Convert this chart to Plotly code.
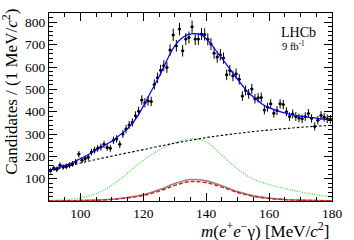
import numpy as np
import plotly.graph_objects as go

# ---- data ----
bin_centers = [90.5 + i for i in range(90)]
counts = [135, 148, 142, 160, 152, 155, 160, 166, 175, 210,
          183, 190, 196, 219, 228, 236, 242, 254, 240, 236,
          272, 278, 254, 300, 322, 340, 352, 382, 402, 452,
          440, 448, 446, 522, 552, 586, 606, 598, 676, 744,
          695, 770, 673, 725, 732, 780, 725, 726, 748, 746,
          724, 703, 662, 645, 655, 640, 565, 585, 560, 570,
          545, 470, 495, 480, 502, 458, 462, 464, 408, 420,
          435, 393, 405, 435, 432, 400, 378, 390, 378, 372,
          368, 378, 392, 370, 334, 362, 383, 375, 368, 366]

fit_x = list(range(90, 181, 2))
fit_total = [137, 146, 155, 164, 176, 190, 204, 219, 236, 252,
             268, 290, 312, 340, 376, 425, 478, 530, 585, 645,
             695, 727, 744, 750, 746, 727, 695, 657, 620, 582,
             545, 508, 478, 455, 432, 418, 407, 398, 390, 384,
             380, 376, 373, 369, 365, 362]

comp_x = list(range(90, 181, 5))
comp_background = [133, 152, 170, 186, 201, 216, 230, 245, 259, 272,
                   284, 294, 303, 311, 318, 324, 330, 335, 339]
comp_green = [3, 6, 13, 33, 70, 125, 183, 228, 262, 279,
              264, 205, 143, 98, 74, 56, 41, 28, 18]
comp_gray = [0, 1, 2, 4, 8, 16, 28, 50, 78, 96,
             90, 68, 42, 23, 13, 7, 4, 2, 1]
comp_red = [0, 1, 2, 3, 7, 14, 25, 44, 70, 87,
            82, 62, 38, 21, 11, 6, 3, 2, 1]

x_tick_vals = [100, 120, 140, 160, 180]
y_tick_vals = [100, 200, 300, 400, 500, 600, 700, 800]

SERIF = "Liberation Serif, Times New Roman, serif"

fig = go.Figure()

fig.add_trace(go.Scatter(x=comp_x, y=comp_green, mode="lines",
                         line=dict(color="#33dd33", width=1.2, dash="1px,1.5px", shape="spline")))
fig.add_trace(go.Scatter(x=comp_x, y=comp_gray, mode="lines",
                         line=dict(color="#8a8a8a", width=1.6, shape="spline")))
fig.add_trace(go.Scatter(x=comp_x, y=comp_red, mode="lines",
                         line=dict(color="#ee1111", width=1.4, dash="4px,2px", shape="spline")))
fig.add_trace(go.Scatter(x=comp_x, y=comp_background, mode="lines",
                         line=dict(color="black", width=1.1, dash="2.5px,2px", shape="spline")))

err = np.sqrt(np.array(counts, dtype=float))
fig.add_trace(go.Scatter(x=bin_centers, y=counts, mode="markers",
                         marker=dict(color="black", size=3),
                         error_y=dict(type="data", array=err, color="black", thickness=1, width=0),
                         error_x=dict(type="constant", value=0.5, color="black", thickness=1, width=0)))

fig.add_trace(go.Scatter(x=fit_x, y=fit_total, mode="lines",
                         line=dict(color="#0000ff", width=1.2, shape="spline")))

axis_common = dict(showline=True, linecolor="black", linewidth=1, mirror="allticks",
                   ticks="inside", ticklen=8, tickcolor="black", tickwidth=1,
                   showgrid=False, zeroline=False,
                   tickfont=dict(family=SERIF, size=13.5, color="black"))

fig.update_xaxes(range=[90, 180], tickvals=x_tick_vals,
                 minor=dict(dtick=5, tick0=90, ticks="inside", ticklen=4, tickcolor="black"),
                 **axis_common)
fig.update_yaxes(range=[0, 842], tickvals=y_tick_vals,
                 minor=dict(dtick=20, tick0=0, ticks="inside", ticklen=4, tickcolor="black"),
                 **axis_common)

fig.add_annotation(text="Candidates / (1 MeV/<i>c</i><sup>2</sup>)", textangle=-90,
                   xref="paper", yref="paper", x=-0.139, y=1, xanchor="center", yanchor="top",
                   yshift=6, showarrow=False, font=dict(family=SERIF, size=17, color="black"))
fig.add_annotation(text="<i>m</i>(<i>e</i><sup>+</sup><i>e</i><sup>\u2212</sup>\u03b3) [MeV/<i>c</i><sup>2</sup>]",
                   xref="paper", yref="paper", x=1, y=0, xanchor="right", yanchor="middle",
                   xshift=-1, yshift=-28.5, showarrow=False,
                   font=dict(family=SERIF, size=17, color="black"))
fig.add_annotation(text="LHCb", xref="paper", yref="paper", x=0.813, y=0.897,
                   xanchor="left", yanchor="middle", showarrow=False,
                   font=dict(family=SERIF, size=14, color="black"))
fig.add_annotation(text="9 fb<sup>-1</sup>", xref="paper", yref="paper", x=0.815, y=0.828,
                   xanchor="left", yanchor="middle", showarrow=False,
                   font=dict(family=SERIF, size=10.5, color="black"))

fig.update_layout(width=354, height=240, showlegend=False,
                  margin=dict(l=49, r=18, t=12, b=39),
                  paper_bgcolor="white", plot_bgcolor="white")

fig.write_html("out.html", config={"displayModeBar": False},
               post_script="document.body.style.margin='0px';document.body.style.padding='0px';")
